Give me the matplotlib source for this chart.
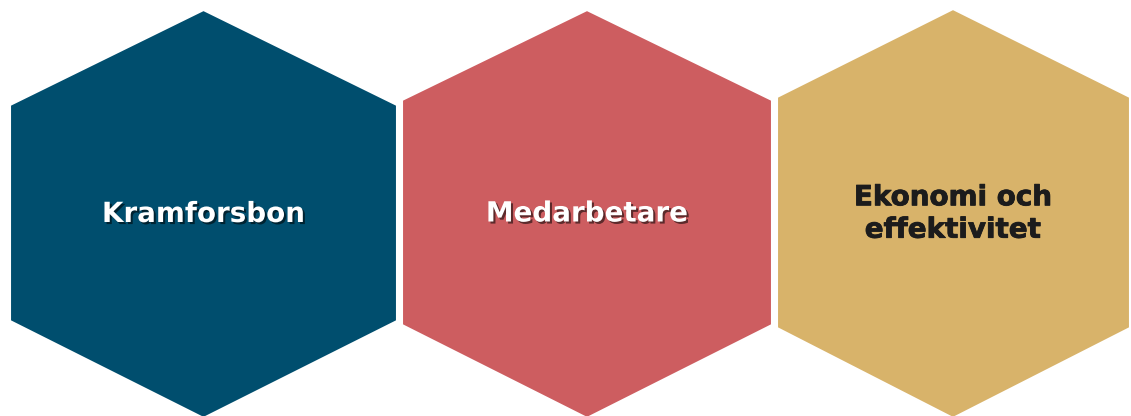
import matplotlib.pyplot as plt
import matplotlib.patheffects as pe
from matplotlib.patches import Polygon

labels = ["Kramforsbon", "Medarbetare", "Ekonomi och\neffektivitet"]
fill_colors = ["#004e6e", "#cd5d60", "#d8b36a"]
text_colors = ["white", "white", "#1c1c1c"]

# hexagon layout in pixels: centre x, left edge, right edge, top, upper corner, lower corner, bottom
hexes = [
    (203.5, 10, 397, 10, 105, 321, 416),
    (587, 402, 772, 10, 100, 325, 416),
    (953, 777, 1130, 9, 97, 328, 416),
]

fig = plt.figure(figsize=(11.31, 4.16), dpi=100)
ax = fig.add_axes([0, 0, 1, 1])
ax.set_xlim(0, 1131)
ax.set_ylim(416, 0)
ax.axis("off")

for (cx, left, right, top, upper, lower, bottom), label, fc, tc in zip(hexes, labels, fill_colors, text_colors):
    pts = [(cx, top), (right, upper), (right, lower), (cx, bottom + 2),
           (left, lower), (left, upper)]
    ax.add_patch(Polygon(pts, closed=True, facecolor=fc, edgecolor="white", linewidth=1.5))
    if tc == "white":
        effects = [pe.withSimplePatchShadow(offset=(1.5, -1.5), shadow_rgbFace="black", alpha=0.55)]
    else:
        effects = [pe.withStroke(linewidth=0.6, foreground=tc)]
    ax.text(cx, (upper + lower) / 2 + 1, label, ha="center", va="center", color=tc,
            fontsize=20, fontweight="bold", family="DejaVu Sans", linespacing=1.2,
            path_effects=effects)

fig.savefig("out.png", dpi=100)
